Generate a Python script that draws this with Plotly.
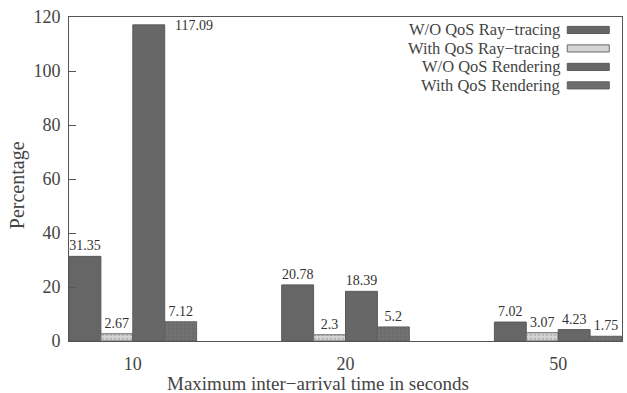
import plotly.graph_objects as go

categories = ["10", "20", "50"]
series_names = ["W/O QoS Ray−tracing", "With QoS Ray−tracing",
                "W/O QoS Rendering", "With QoS Rendering"]
wo_qos_ray = [31.35, 20.78, 7.02]
with_qos_ray = [2.67, 2.3, 3.07]
wo_qos_render = [117.09, 18.39, 4.23]
with_qos_render = [7.12, 5.2, 1.75]
y_ticks = [0, 20, 40, 60, 80, 100, 120]
x_title = "Maximum inter−arrival time in seconds"
y_title = "Percentage"

series_values = [wo_qos_ray, with_qos_ray, wo_qos_render, with_qos_render]
fill_colors = ["#666666", "#d4d4d4", "#676767", "#6c6c6c"]
line_colors = ["#5a5a5a", "#6a6a6a", "#5a5a5a", "#606060"]
patterns = ["", ".", "", "."]
pattern_fg = ["#666666", "#9a9a9a", "#666666", "#7c7c7c"]

FONT = "Liberation Serif"
TXT = "#444444"
fig = go.Figure()
annotations = []
n = len(series_values)
bar_w = 0.6 / n
for i, (name, vals) in enumerate(zip(series_names, series_values)):
    texts = []
    for j, v in enumerate(vals):
        if v > 110:
            texts.append("")
            off = -0.3 + bar_w * (i + 1)
            annotations.append(dict(x=j + off, y=v, xref="x", yref="y", text=f"{v:g}",
                                    showarrow=False, xanchor="left", yanchor="middle",
                                    xshift=8, yshift=-1,
                                    font=dict(family=FONT, size=14, color="#333")))
        else:
            texts.append(f"{v:g}")
    fig.add_trace(go.Bar(
        x=list(range(len(categories))), y=vals, name=name, text=texts,
        textposition="outside", cliponaxis=False, constraintext="none",
        textfont=dict(family=FONT, size=14, color="#333"),
        marker=dict(color=fill_colors[i], line=dict(color=line_colors[i], width=1),
                    pattern=dict(shape=patterns[i], fgcolor=pattern_fg[i], size=4, solidity=0.3)),
        showlegend=False,
    ))

# custom legend (text right-aligned, swatch on the right)
leg_y = [0.960, 0.903, 0.846, 0.789]
for i, name in enumerate(series_names):
    annotations.append(dict(x=0.8915, y=leg_y[i], xref="paper", yref="paper", text=name,
                            showarrow=False, xanchor="right", yanchor="middle",
                            font=dict(family=FONT, size=16.5, color=TXT)))
    fig.add_shape(type="rect", xref="paper", yref="paper",
                  x0=0.901, x1=0.977, y0=leg_y[i] - 0.011, y1=leg_y[i] + 0.011,
                  fillcolor=fill_colors[i], line=dict(color=line_colors[i], width=1))

# axis titles
annotations.append(dict(x=0.450, y=-0.130, xref="paper", yref="paper", text=x_title,
                        showarrow=False, xanchor="center", yanchor="middle",
                        font=dict(family=FONT, size=19, color=TXT)))
annotations.append(dict(x=-0.094, y=0.481, xref="paper", yref="paper", text=y_title,
                        showarrow=False, xanchor="center", yanchor="middle", textangle=-90,
                        font=dict(family=FONT, size=20, color=TXT)))

fig.update_layout(
    width=627, height=393,
    margin=dict(l=69, r=5, t=17, b=52, autoexpand=False),
    paper_bgcolor="white", plot_bgcolor="white",
    barmode="group", bargap=0.4, bargroupgap=0,
    font=dict(family=FONT, color=TXT),
    annotations=annotations,
    xaxis=dict(range=[-0.3, 2.3], tickmode="array", tickvals=list(range(len(categories))),
               ticktext=categories, showgrid=False, zeroline=False, automargin=False,
               showline=True, linecolor="#555", linewidth=1, mirror=True, ticks="",
               tickfont=dict(family=FONT, size=18, color=TXT), ticklabelstandoff=6),
    yaxis=dict(range=[0, 120], tickmode="array", tickvals=y_ticks, showgrid=False,
               zeroline=False, showline=True, linecolor="#555", linewidth=1, mirror=True,
               automargin=False, ticks="inside", ticklen=7, tickcolor="#555",
               ticklabelstandoff=4,
               tickfont=dict(family=FONT, size=18, color=TXT)),
)

fig.write_html("out.html", config={"displayModeBar": False},
               post_script="document.body.style.margin='0';document.body.style.overflow='hidden';")
